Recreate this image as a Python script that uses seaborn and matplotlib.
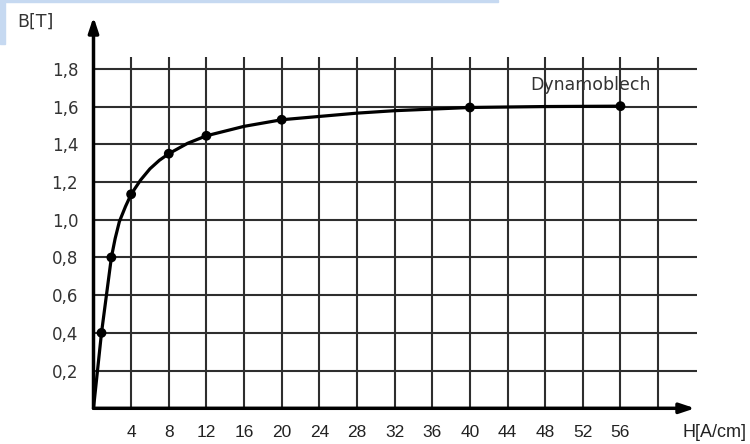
import matplotlib.pyplot as plt
import pandas as pd
import seaborn as sns
from matplotlib.patches import Rectangle

# measured points (dots on the curve)
h_points = [0.85, 1.9, 4, 8, 12, 20, 40, 56]
b_points = [0.40, 0.80, 1.135, 1.35, 1.445, 1.53, 1.595, 1.602]

# the drawn curve
h_curve = [0, 0.85, 1.9, 2.3, 2.75, 3.4, 4, 5, 6, 7, 8, 10, 12, 16, 20, 28, 32, 40, 48, 56]
b_curve = [0, 0.40, 0.80, 0.90, 0.99, 1.07, 1.135, 1.21, 1.27, 1.315, 1.35, 1.405, 1.445,
           1.495, 1.53, 1.565, 1.578, 1.595, 1.600, 1.602]

x_ticks = [4, 8, 12, 16, 20, 24, 28, 32, 36, 40, 44, 48, 52, 56]
x_grid = x_ticks + [60]
y_ticks = [0.2, 0.4, 0.6, 0.8, 1.0, 1.2, 1.4, 1.6, 1.8]
y_labels = ["0,2", "0,4", "0,6", "0,8", "1,0", "1,2", "1,4", "1,6", "1,8"]

curve = pd.DataFrame({"H": h_curve, "B": b_curve})
points = pd.DataFrame({"H": h_points, "B": b_points})

sns.set_style("white")
fig = plt.figure(figsize=(7.5, 4.44), dpi=100)
W, H = 750, 444
x0, y0, x1, y1 = 93.5, 408.3, 695, 17
ax = fig.add_axes([x0 / W, (H - y0) / H, (x1 - x0) / W, (y0 - y1) / H])
ax.set_xlim(0, (x1 - x0) / 9.41)
ax.set_ylim(0, (y0 - y1) / 188.6)

grid_col = "#2e2e2e"
ax.vlines(x_grid, 0, 1.863, color=grid_col, lw=1.5, zorder=1, clip_on=False)
ax.hlines(y_ticks, 0, 64.1, color=grid_col, lw=1.5, zorder=1, clip_on=False)

sns.lineplot(data=curve, x="H", y="B", ax=ax, color="black", lw=2.3,
             sort=False, zorder=3)
sns.scatterplot(data=points, x="H", y="B", ax=ax, color="black", s=50,
                edgecolor="none", zorder=4)

for s in ax.spines.values():
    s.set_visible(False)
arrow = dict(arrowstyle="-|>,head_length=0.9,head_width=0.3", color="black",
             lw=2.5, shrinkA=0, shrinkB=0)
ax.annotate("", xy=(1, 0), xytext=(0, 0), xycoords="axes fraction", arrowprops=arrow)
ax.annotate("", xy=(0, 1), xytext=(0, 0), xycoords="axes fraction", arrowprops=arrow)

ax.set_xticks(x_ticks)
ax.set_xticklabels([str(v) for v in x_ticks], fontfamily="Liberation Sans",
                   fontsize=12.5, color="#222222")
ax.set_yticks(y_ticks)
ax.set_yticklabels(y_labels, fontfamily="DejaVu Sans", fontsize=12, color="#333333")
ax.tick_params(axis="x", length=0, pad=12)
ax.tick_params(axis="y", length=0, pad=11)
ax.set_xlabel("")
ax.set_ylabel("")

ax.text(52.8, 1.714, "Dynamoblech", ha="center", va="center",
        fontfamily="DejaVu Sans", fontsize=12.5, color="#333333")
fig.text(35 / W, 1 - 22 / H, "B[T]", ha="center", va="center",
         fontfamily="DejaVu Sans", fontsize=12.5, color="#333333")
fig.text(714 / W, 1 - 432 / H, "H[A/cm]", ha="center", va="center",
         fontfamily="Liberation Sans", fontsize=13, color="#222222")

# light blue selection frame at the top left of the screenshot
fig.patches.append(Rectangle((0, 1 - 2.5 / H), 498 / W, 2.5 / H, transform=fig.transFigure,
                             color="#c6d9f1", zorder=0))
fig.patches.append(Rectangle((0, 1 - 44 / H), 5 / W, 44 / H, transform=fig.transFigure,
                             color="#c6d9f1", zorder=0))

fig.savefig("out.png", dpi=100)
